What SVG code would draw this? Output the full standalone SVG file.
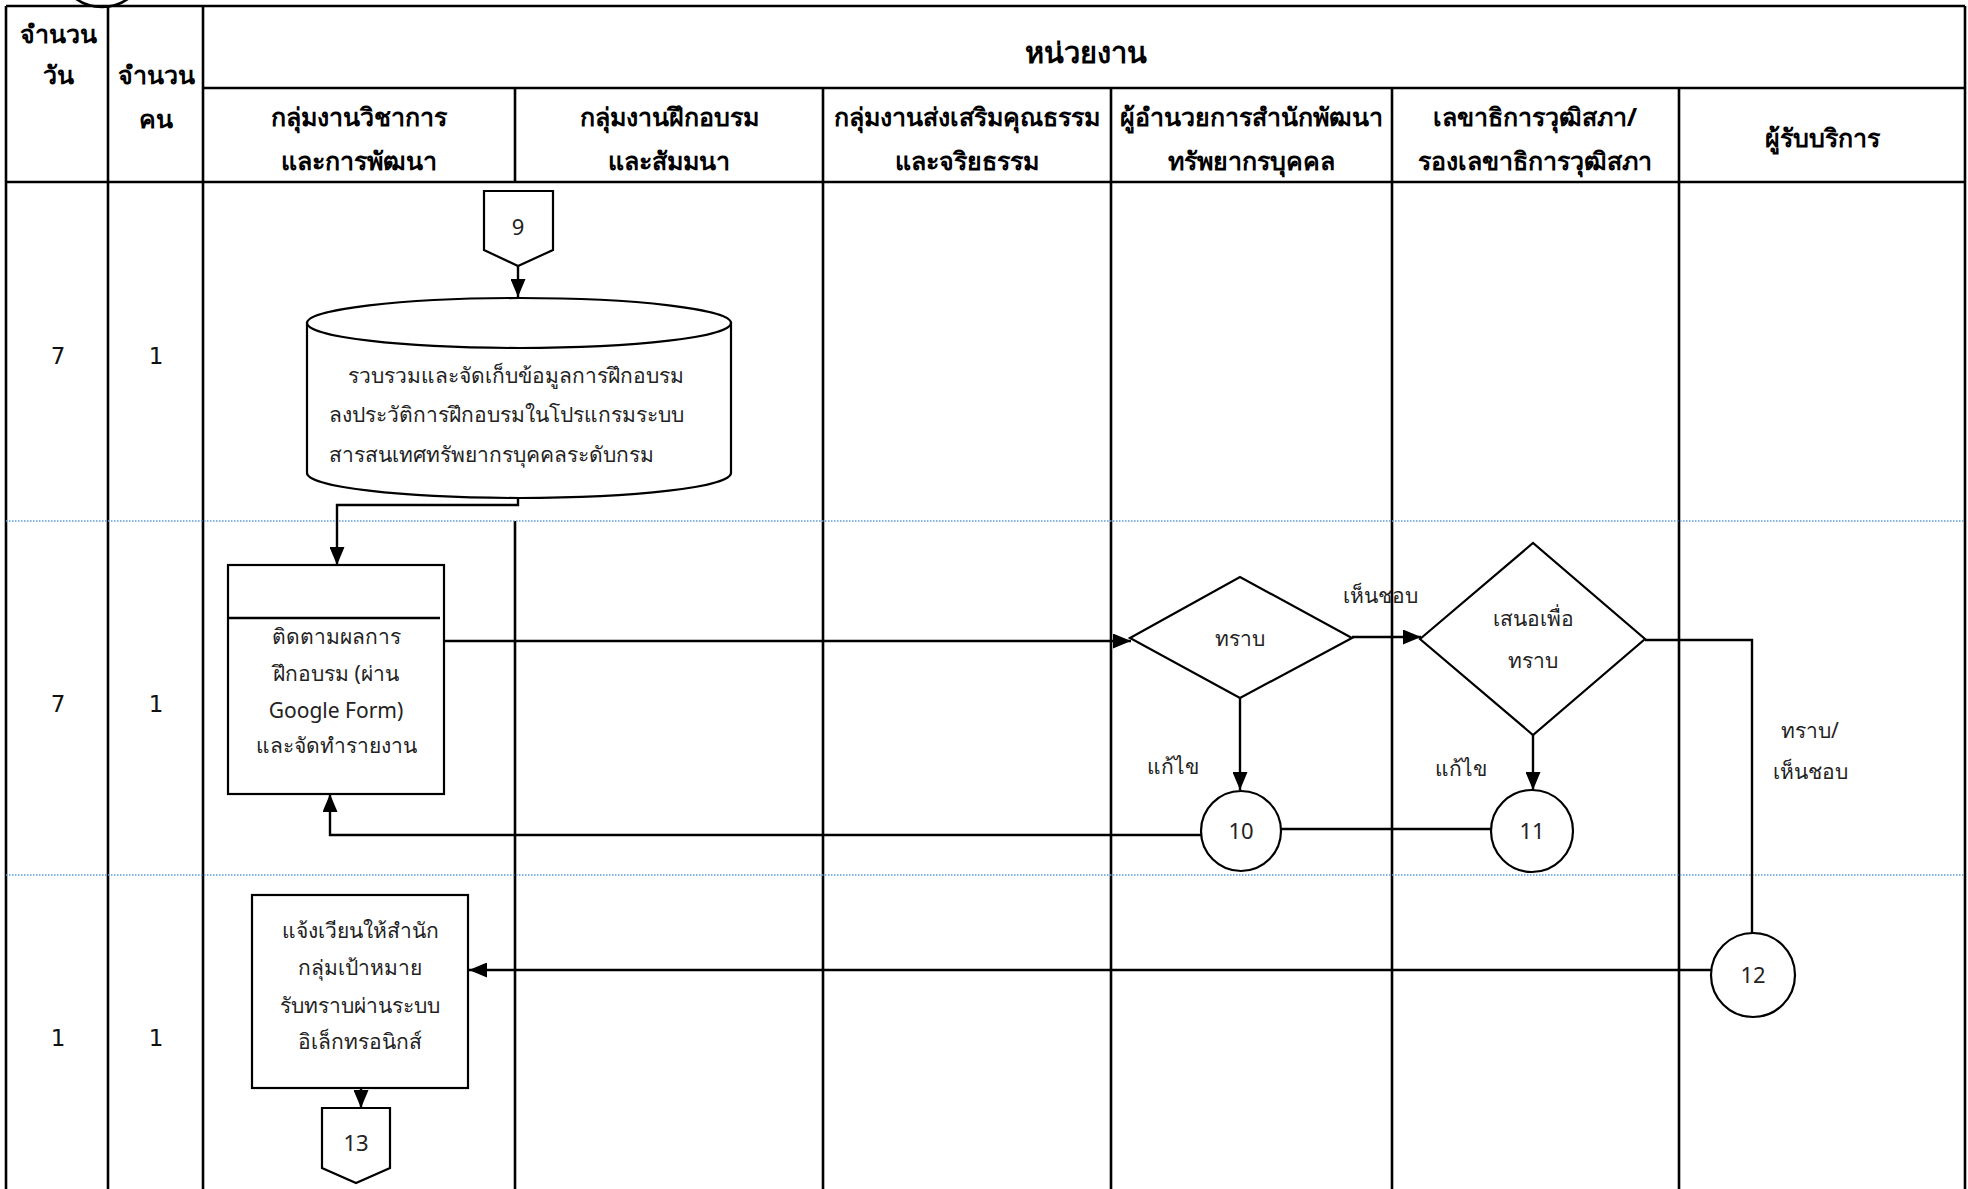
<svg xmlns="http://www.w3.org/2000/svg" width="1968" height="1189" viewBox="0 0 1968 1189">
  <style>
    .grid { stroke: #000; stroke-width: 2.6; fill: none; }
    .rowsep { stroke: #5b9bd5; stroke-width: 1.5; stroke-dasharray: 1.5 1.5; fill: none; }
    .shape { fill: #fff; stroke: #000; stroke-width: 2.2; }
    .conn { fill: none; stroke: #000; stroke-width: 2.4; }
    .arrow { marker-end: url(#ah); }
    .hdr { font-family: "Noto Sans", "DejaVu Sans", sans-serif; font-weight: bold; font-size: 25px; fill: #000; text-anchor: middle; }
    .title { font-size: 29px; }
    .txt { font-family: "Noto Sans", "DejaVu Sans", sans-serif; font-size: 21px; fill: #222; text-anchor: middle; }
    .left { text-anchor: start; }
    .id { font-size: 22px; }
    .num { font-family: "DejaVu Sans", sans-serif; font-size: 23px; fill: #111; text-anchor: middle; }
  </style>
  <defs>
    <marker id="ah" viewBox="0 0 18 15" markerUnits="userSpaceOnUse" markerWidth="18" markerHeight="15" refX="18" refY="7.5" orient="auto">
      <path d="M0,0 L18,7.5 L0,15 Z" fill="#000"/>
    </marker>
  </defs>

  <rect width="1968" height="1189" fill="#fff"/>

  <!-- table frame -->
  <g id="table">
    <circle class="grid" cx="102" cy="-38" r="45"/>
    <line class="grid" x1="6" y1="6" x2="1965" y2="6"/>
    <line class="grid" x1="203" y1="88" x2="1965" y2="88"/>
    <line class="grid" x1="6" y1="182" x2="1965" y2="182"/>
    <line class="grid" x1="6" y1="6" x2="6" y2="1189"/>
    <line class="grid" x1="108" y1="6" x2="108" y2="1189"/>
    <line class="grid" x1="203" y1="6" x2="203" y2="1189"/>
    <line class="grid" x1="515" y1="88" x2="515" y2="182"/>
    <line class="grid" x1="515" y1="521" x2="515" y2="1189"/>
    <line class="grid" x1="823" y1="88" x2="823" y2="1189"/>
    <line class="grid" x1="1111" y1="88" x2="1111" y2="1189"/>
    <line class="grid" x1="1392" y1="88" x2="1392" y2="1189"/>
    <line class="grid" x1="1679" y1="88" x2="1679" y2="1189"/>
    <line class="grid" x1="1965" y1="6" x2="1965" y2="1189"/>
    <line class="rowsep" x1="6" y1="521" x2="1965" y2="521"/>
    <line class="rowsep" x1="6" y1="875" x2="1965" y2="875"/>
  </g>

  <!-- header labels -->
  <g id="header">
    <text class="hdr" x="58" y="43">จำนวน</text>
    <text class="hdr" x="58" y="84">วัน</text>
    <text class="hdr" x="156" y="84">จำนวน</text>
    <text class="hdr" x="156" y="128">คน</text>
    <text class="hdr title" x="1086" y="63">หน่วยงาน</text>
    <text class="hdr" x="359" y="126">กลุ่มงานวิชาการ</text>
    <text class="hdr" x="359" y="170">และการพัฒนา</text>
    <text class="hdr" x="669" y="126">กลุ่มงานฝึกอบรม</text>
    <text class="hdr" x="669" y="170">และสัมมนา</text>
    <text class="hdr" x="967" y="126">กลุ่มงานส่งเสริมคุณธรรม</text>
    <text class="hdr" x="967" y="170">และจริยธรรม</text>
    <text class="hdr" x="1251" y="126">ผู้อำนวยการสำนักพัฒนา</text>
    <text class="hdr" x="1251" y="170">ทรัพยากรบุคคล</text>
    <text class="hdr" x="1535" y="126">เลขาธิการวุฒิสภา/</text>
    <text class="hdr" x="1535" y="170">รองเลขาธิการวุฒิสภา</text>
    <text class="hdr" x="1822" y="147">ผู้รับบริการ</text>
  </g>

  <!-- days / persons per row -->
  <g id="counts">
    <text class="num" x="58" y="364">7</text>
    <text class="num" x="156" y="364">1</text>
    <text class="num" x="58" y="712">7</text>
    <text class="num" x="156" y="712">1</text>
    <text class="num" x="58" y="1046">1</text>
    <text class="num" x="156" y="1046">1</text>
  </g>

  <!-- connectors -->
  <g id="connectors">
    <line class="conn arrow" x1="518" y1="266" x2="518" y2="297"/>
    <polyline class="conn arrow" points="518,498 518,505 337,505 337,565"/>
    <line class="conn arrow" x1="444" y1="641" x2="1131" y2="641"/>
    <line class="conn arrow" x1="1240" y1="698" x2="1240" y2="790"/>
    <line class="conn arrow" x1="1352" y1="637" x2="1421" y2="637"/>
    <line class="conn arrow" x1="1533" y1="735" x2="1533" y2="790"/>
    <line class="conn" x1="1491" y1="829" x2="1281" y2="829"/>
    <polyline class="conn arrow" points="1201,835 330,835 330,794"/>
    <polyline class="conn" points="1645,640 1752,640 1752,933"/>
    <line class="conn arrow" x1="1711" y1="970" x2="469" y2="970"/>
    <line class="conn arrow" x1="361" y1="1088" x2="361" y2="1108"/>
    <text class="txt" x="1380" y="603">เห็นชอบ</text>
    <text class="txt" x="1173" y="774">แก้ไข</text>
    <text class="txt" x="1461" y="776">แก้ไข</text>
    <text class="txt" x="1810" y="738">ทราบ/</text>
    <text class="txt" x="1810" y="779">เห็นชอบ</text>
  </g>

  <!-- off-page connector 9 -->
  <g id="node-9">
    <polygon class="shape" points="484,191 553,191 553,250 518,266 484,250"/>
    <text class="txt id" x="518" y="235">9</text>
  </g>

  <!-- data store -->
  <g id="node-store">
    <path class="shape" d="M307,323 L307,473 A212,25 0 0 0 731,473 L731,323 Z"/>
    <ellipse class="shape" cx="519" cy="323" rx="212" ry="25"/>
    <text class="txt left" x="348" y="383">รวบรวมและจัดเก็บข้อมูลการฝึกอบรม</text>
    <text class="txt left" x="329" y="422">ลงประวัติการฝึกอบรมในโปรแกรมระบบ</text>
    <text class="txt left" x="329" y="462">สารสนเทศทรัพยากรบุคคลระดับกรม</text>
  </g>

  <!-- follow-up task -->
  <g id="node-followup">
    <rect class="shape" x="228" y="565" width="216" height="229"/>
    <line class="conn" x1="229" y1="618" x2="440" y2="618"/>
    <text class="txt" x="336" y="644">ติดตามผลการ</text>
    <text class="txt" x="336" y="681">ฝึกอบรม (ผ่าน</text>
    <text class="txt" x="336" y="718">Google Form)</text>
    <text class="txt" x="336" y="753">และจัดทำรายงาน</text>
  </g>

  <!-- decision: acknowledge -->
  <g id="node-ack">
    <polygon class="shape" points="1130,638 1240,577 1352,638 1240,698"/>
    <text class="txt" x="1240" y="646">ทราบ</text>
  </g>

  <!-- decision: propose to secretary general -->
  <g id="node-propose">
    <polygon class="shape" points="1420,639 1533,543 1645,639 1533,735"/>
    <text class="txt" x="1533" y="626">เสนอเพื่อ</text>
    <text class="txt" x="1533" y="668">ทราบ</text>
  </g>

  <g id="node-10">
    <circle class="shape" cx="1241" cy="831" r="40"/>
    <text class="txt id" x="1241" y="839">10</text>
  </g>

  <g id="node-11">
    <circle class="shape" cx="1532" cy="831" r="41"/>
    <text class="txt id" x="1532" y="839">11</text>
  </g>

  <g id="node-12">
    <circle class="shape" cx="1753" cy="975" r="42"/>
    <text class="txt id" x="1753" y="983">12</text>
  </g>

  <!-- circulate notice task -->
  <g id="node-notice">
    <rect class="shape" x="252" y="895" width="216" height="193"/>
    <text class="txt" x="360" y="938">แจ้งเวียนให้สำนัก</text>
    <text class="txt" x="360" y="975">กลุ่มเป้าหมาย</text>
    <text class="txt" x="360" y="1013">รับทราบผ่านระบบ</text>
    <text class="txt" x="360" y="1049">อิเล็กทรอนิกส์</text>
  </g>

  <!-- off-page connector 13 -->
  <g id="node-13">
    <polygon class="shape" points="322,1108 390,1108 390,1168 356,1183 322,1168"/>
    <text class="txt id" x="356" y="1151">13</text>
  </g>
</svg>
